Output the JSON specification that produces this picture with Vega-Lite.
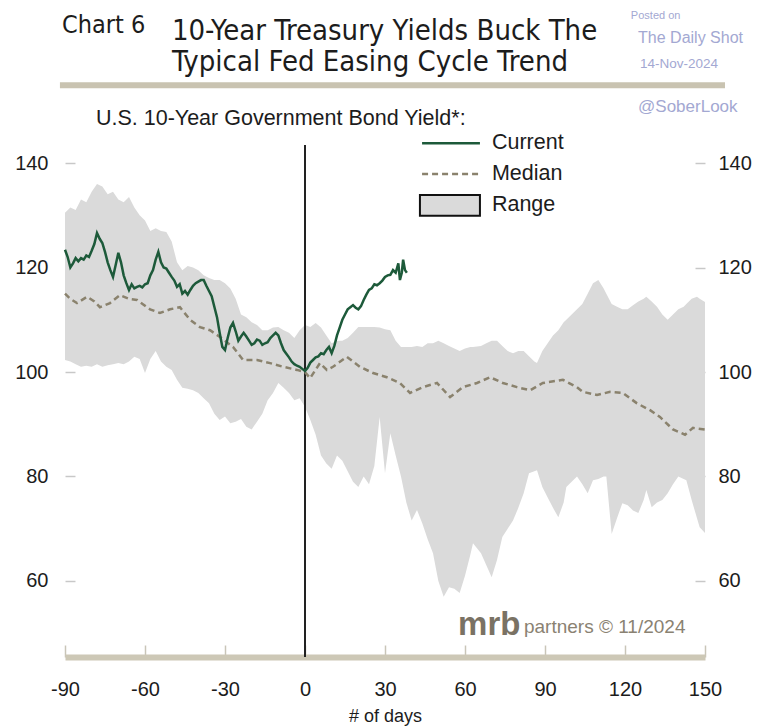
{
  "$schema": "https://vega.github.io/schema/vega-lite/v6.json",
  "autosize": {"type": "none"},
  "width": 640,
  "height": 512,
  "padding": {"left": 65, "top": 145, "right": 54, "bottom": 71},
  "background": "white",
  "config": {
    "view": {"stroke": null},
    "font": "Liberation Sans, Arial, sans-serif",
    "axisX": {
      "domain": true, "domainColor": "#cdc8b6", "domainWidth": 6, "domainCap": "butt",
      "grid": false, "ticks": true, "tickSize": -12, "tickColor": "#c9c5b8", "tickWidth": 1.5,
      "labelFont": "Liberation Sans, Arial, sans-serif", "labelFontSize": 20, "labelColor": "#1c1c1c",
      "labelPadding": 34, "labelFlush": false,
      "titleFont": "Liberation Sans, Arial, sans-serif", "titleFontSize": 18, "titleFontWeight": "normal",
      "titleColor": "#1c1c1c", "titlePadding": 8
    },
    "axisY": {
      "domain": false, "grid": false, "ticks": true, "tickSize": -10, "tickColor": "#c8c8c8", "tickWidth": 1.5,
      "labelFont": "Liberation Sans, Arial, sans-serif", "labelFontSize": 20, "labelColor": "#1c1c1c",
      "labelPadding": 27, "title": null
    }
  },
  "datasets": {
    "range": [
      {"day": -90, "hi": 130.5, "lo": 102.3}, {"day": -88, "hi": 131.5, "lo": 102}, {"day": -86, "hi": 131, "lo": 101.5},
      {"day": -84, "hi": 133, "lo": 101}, {"day": -82, "hi": 132.5, "lo": 101.2}, {"day": -80, "hi": 134.5, "lo": 101},
      {"day": -78, "hi": 136, "lo": 101.5}, {"day": -76, "hi": 135.5, "lo": 101}, {"day": -74, "hi": 134, "lo": 101.3},
      {"day": -72, "hi": 134.5, "lo": 101.5}, {"day": -70, "hi": 133, "lo": 101.7}, {"day": -68, "hi": 132.5, "lo": 101.5},
      {"day": -66, "hi": 133.5, "lo": 102}, {"day": -64, "hi": 131.5, "lo": 102.9}, {"day": -62, "hi": 130, "lo": 102.5},
      {"day": -60, "hi": 129, "lo": 99.8}, {"day": -58, "hi": 127, "lo": 102.5}, {"day": -56, "hi": 127.5, "lo": 104},
      {"day": -54, "hi": 127, "lo": 102}, {"day": -52, "hi": 126.8, "lo": 101}, {"day": -50, "hi": 125, "lo": 100.4},
      {"day": -48, "hi": 121, "lo": 98.5}, {"day": -46, "hi": 119.5, "lo": 97}, {"day": -44, "hi": 120.3, "lo": 96.8},
      {"day": -42, "hi": 120, "lo": 96.5}, {"day": -40, "hi": 119.5, "lo": 96}, {"day": -38, "hi": 118.5, "lo": 95},
      {"day": -36, "hi": 118, "lo": 94}, {"day": -34, "hi": 117.6, "lo": 92}, {"day": -32, "hi": 117.6, "lo": 90.8},
      {"day": -30, "hi": 117, "lo": 91.5}, {"day": -28, "hi": 116, "lo": 90.2}, {"day": -26, "hi": 114, "lo": 90.5},
      {"day": -24, "hi": 111, "lo": 91}, {"day": -22, "hi": 110.5, "lo": 89.5}, {"day": -20, "hi": 109.5, "lo": 89},
      {"day": -18, "hi": 109, "lo": 90.5}, {"day": -16, "hi": 108, "lo": 92}, {"day": -14, "hi": 108, "lo": 94.6},
      {"day": -12, "hi": 108.5, "lo": 96}, {"day": -10, "hi": 108.6, "lo": 97.9}, {"day": -8, "hi": 108, "lo": 97},
      {"day": -6, "hi": 107.5, "lo": 96}, {"day": -4, "hi": 106.5, "lo": 94.6}, {"day": -2, "hi": 108, "lo": 95},
      {"day": 0, "hi": 109, "lo": 93.3}, {"day": 2, "hi": 108.6, "lo": 90.8}, {"day": 4, "hi": 109.4, "lo": 88},
      {"day": 6, "hi": 108.5, "lo": 84}, {"day": 8, "hi": 107, "lo": 82.5}, {"day": 10, "hi": 105.5, "lo": 81.5},
      {"day": 12, "hi": 106, "lo": 84}, {"day": 14, "hi": 106, "lo": 83}, {"day": 16, "hi": 106.5, "lo": 81},
      {"day": 18, "hi": 107.5, "lo": 79}, {"day": 20, "hi": 108.6, "lo": 78}, {"day": 22, "hi": 108.6, "lo": 80},
      {"day": 24, "hi": 108.6, "lo": 78.5}, {"day": 26, "hi": 108.6, "lo": 82}, {"day": 28, "hi": 108.5, "lo": 91.4},
      {"day": 30, "hi": 108.2, "lo": 80.6}, {"day": 32, "hi": 108, "lo": 88.3}, {"day": 34, "hi": 106, "lo": 84},
      {"day": 36, "hi": 104.8, "lo": 80}, {"day": 38, "hi": 104.8, "lo": 75}, {"day": 40, "hi": 104.8, "lo": 71.6},
      {"day": 42, "hi": 105, "lo": 73.6}, {"day": 44, "hi": 104.8, "lo": 71}, {"day": 46, "hi": 105.5, "lo": 68},
      {"day": 48, "hi": 105.5, "lo": 65.3}, {"day": 50, "hi": 106, "lo": 60}, {"day": 52, "hi": 105.5, "lo": 57},
      {"day": 54, "hi": 105, "lo": 58.8}, {"day": 56, "hi": 104.5, "lo": 58.5}, {"day": 58, "hi": 104, "lo": 57.7},
      {"day": 60, "hi": 104.5, "lo": 61}, {"day": 62, "hi": 104.8, "lo": 65}, {"day": 63, "hi": 104.8, "lo": 67.2},
      {"day": 66, "hi": 105, "lo": 65.3}, {"day": 68, "hi": 105.5, "lo": 63}, {"day": 70, "hi": 106, "lo": 60.7},
      {"day": 72, "hi": 106, "lo": 64}, {"day": 74, "hi": 105, "lo": 68.4}, {"day": 76, "hi": 104, "lo": 70},
      {"day": 78, "hi": 103.6, "lo": 71.6}, {"day": 80, "hi": 104, "lo": 74}, {"day": 82, "hi": 104, "lo": 76.8},
      {"day": 84, "hi": 103, "lo": 80.6}, {"day": 86, "hi": 102, "lo": 81}, {"day": 87, "hi": 101.7, "lo": 81.2},
      {"day": 89, "hi": 104, "lo": 78}, {"day": 91, "hi": 105.5, "lo": 76}, {"day": 93, "hi": 107, "lo": 74},
      {"day": 95, "hi": 108, "lo": 72.2}, {"day": 97, "hi": 109.5, "lo": 75}, {"day": 98, "hi": 110, "lo": 78},
      {"day": 100, "hi": 111, "lo": 79}, {"day": 102, "hi": 112, "lo": 80}, {"day": 104, "hi": 113, "lo": 78.5},
      {"day": 106, "hi": 115, "lo": 76.8}, {"day": 108, "hi": 117, "lo": 79.3}, {"day": 110, "hi": 117.6, "lo": 79.5},
      {"day": 112, "hi": 116, "lo": 80}, {"day": 113, "hi": 115, "lo": 80}, {"day": 115, "hi": 113, "lo": 69},
      {"day": 117, "hi": 112.5, "lo": 72}, {"day": 119, "hi": 112, "lo": 74.9}, {"day": 121, "hi": 112, "lo": 74.5},
      {"day": 123, "hi": 112.8, "lo": 73.5}, {"day": 125, "hi": 113.5, "lo": 73}, {"day": 127, "hi": 114, "lo": 75.5},
      {"day": 128, "hi": 114.4, "lo": 77.4}, {"day": 130, "hi": 113.5, "lo": 74.1}, {"day": 132, "hi": 112.5, "lo": 75},
      {"day": 134, "hi": 111, "lo": 75.5}, {"day": 136, "hi": 110, "lo": 76.8}, {"day": 138, "hi": 111, "lo": 78.5},
      {"day": 140, "hi": 112, "lo": 80}, {"day": 142, "hi": 112.5, "lo": 79.5}, {"day": 143, "hi": 113, "lo": 79.3},
      {"day": 145, "hi": 114, "lo": 75.5}, {"day": 147, "hi": 114.4, "lo": 72}, {"day": 148, "hi": 114, "lo": 70.3},
      {"day": 150, "hi": 113.4, "lo": 69.2}
    ],
    "current": [
      {"day": -90, "value": 123.4}, {"day": -89, "value": 122}, {"day": -88, "value": 120}, {"day": -87, "value": 120.8},
      {"day": -86, "value": 121.8}, {"day": -85, "value": 121.2}, {"day": -84, "value": 121.8}, {"day": -83, "value": 121.5},
      {"day": -82, "value": 122.3}, {"day": -81, "value": 122}, {"day": -80, "value": 123.2}, {"day": -79, "value": 124.5},
      {"day": -78, "value": 126.6}, {"day": -77, "value": 125.5}, {"day": -76, "value": 124.7}, {"day": -75, "value": 123},
      {"day": -74, "value": 121}, {"day": -73, "value": 119.5}, {"day": -72, "value": 118.2}, {"day": -71, "value": 120.5},
      {"day": -70, "value": 122.8}, {"day": -69, "value": 121}, {"day": -68, "value": 118.5}, {"day": -67, "value": 117},
      {"day": -66, "value": 115.7}, {"day": -65, "value": 116.8}, {"day": -64, "value": 116}, {"day": -63, "value": 116.3},
      {"day": -62, "value": 116.5}, {"day": -61, "value": 116.2}, {"day": -60, "value": 116.8}, {"day": -59, "value": 117},
      {"day": -58, "value": 118.5}, {"day": -57, "value": 119.5}, {"day": -56, "value": 121.5}, {"day": -55, "value": 123},
      {"day": -54, "value": 121}, {"day": -53, "value": 120}, {"day": -52, "value": 119.8}, {"day": -51, "value": 119},
      {"day": -50, "value": 118.2}, {"day": -49, "value": 117.5}, {"day": -48, "value": 116.3}, {"day": -47, "value": 116.8},
      {"day": -46, "value": 115}, {"day": -45, "value": 115.5}, {"day": -44, "value": 114.8}, {"day": -43, "value": 115.7},
      {"day": -42, "value": 116.5}, {"day": -41, "value": 117}, {"day": -40, "value": 117.3}, {"day": -39, "value": 117.6},
      {"day": -38, "value": 117.6}, {"day": -37, "value": 116.5}, {"day": -36, "value": 115.5}, {"day": -35, "value": 114.5},
      {"day": -34, "value": 112.5}, {"day": -33, "value": 110.5}, {"day": -32, "value": 107.5}, {"day": -31, "value": 104.8},
      {"day": -30, "value": 104.2}, {"day": -29, "value": 106.5}, {"day": -28, "value": 108.5}, {"day": -27, "value": 109.4},
      {"day": -26, "value": 107.8}, {"day": -25, "value": 106}, {"day": -24, "value": 106.8}, {"day": -23, "value": 107.5},
      {"day": -22, "value": 106.8}, {"day": -21, "value": 106}, {"day": -20, "value": 105.2}, {"day": -19, "value": 105.5},
      {"day": -18, "value": 106.2}, {"day": -17, "value": 106}, {"day": -16, "value": 105.2}, {"day": -15, "value": 105.5},
      {"day": -14, "value": 105.7}, {"day": -13, "value": 106.5}, {"day": -12, "value": 107}, {"day": -11, "value": 107.5},
      {"day": -10, "value": 107}, {"day": -9, "value": 105.5}, {"day": -8, "value": 104.2}, {"day": -7, "value": 103.5},
      {"day": -6, "value": 102.8}, {"day": -5, "value": 102}, {"day": -4, "value": 101.5}, {"day": -3, "value": 101.2},
      {"day": -2, "value": 101}, {"day": -1, "value": 100.6}, {"day": 0, "value": 100.2}, {"day": 1, "value": 100.8},
      {"day": 2, "value": 101.8}, {"day": 3, "value": 102.3}, {"day": 4, "value": 102.8}, {"day": 5, "value": 103},
      {"day": 6, "value": 103.6}, {"day": 7, "value": 103.4}, {"day": 8, "value": 104.2}, {"day": 9, "value": 104.8},
      {"day": 10, "value": 103.6}, {"day": 11, "value": 105}, {"day": 12, "value": 107}, {"day": 13, "value": 108.5},
      {"day": 14, "value": 110}, {"day": 15, "value": 111}, {"day": 16, "value": 112}, {"day": 17, "value": 112.4},
      {"day": 18, "value": 112.8}, {"day": 19, "value": 112.3}, {"day": 20, "value": 112}, {"day": 21, "value": 112.6},
      {"day": 22, "value": 113.8}, {"day": 23, "value": 114.8}, {"day": 24, "value": 115.7}, {"day": 25, "value": 116},
      {"day": 26, "value": 116.8}, {"day": 27, "value": 116.6}, {"day": 28, "value": 117}, {"day": 29, "value": 117.5},
      {"day": 30, "value": 118.2}, {"day": 31, "value": 118.5}, {"day": 32, "value": 118.6}, {"day": 33, "value": 119.5},
      {"day": 34, "value": 119}, {"day": 35, "value": 120.8}, {"day": 35.6, "value": 117.6}, {"day": 36.3, "value": 119},
      {"day": 36.8, "value": 121.5}, {"day": 37.5, "value": 119.5}, {"day": 38.2, "value": 119}
    ],
    "median": [
      {"day": -90, "value": 115}, {"day": -88, "value": 114}, {"day": -85.5, "value": 113.2}, {"day": -81.7, "value": 114.4},
      {"day": -79, "value": 113.5}, {"day": -76.9, "value": 112.4}, {"day": -73.1, "value": 113.2}, {"day": -69.4, "value": 114.7},
      {"day": -66, "value": 114}, {"day": -63, "value": 113.8}, {"day": -58.1, "value": 112}, {"day": -54.4, "value": 111.3},
      {"day": -50.6, "value": 112}, {"day": -46.9, "value": 112.4}, {"day": -43.1, "value": 110}, {"day": -39.4, "value": 108.6},
      {"day": -35.6, "value": 108}, {"day": -31.9, "value": 106.7}, {"day": -27, "value": 104.8}, {"day": -23.2, "value": 102.3},
      {"day": -18, "value": 102.3}, {"day": -13.1, "value": 101.7}, {"day": -8.2, "value": 101}, {"day": -3, "value": 100.4},
      {"day": 0, "value": 100}, {"day": 1.9, "value": 98.8}, {"day": 5.6, "value": 101.7}, {"day": 8.2, "value": 100.4},
      {"day": 10.5, "value": 101}, {"day": 15.7, "value": 102.9}, {"day": 20.6, "value": 101}, {"day": 25.5, "value": 99.8},
      {"day": 30.7, "value": 99}, {"day": 35.6, "value": 97.9}, {"day": 39.4, "value": 96}, {"day": 44.2, "value": 97.1},
      {"day": 49.5, "value": 97.9}, {"day": 54.4, "value": 95.2}, {"day": 59.2, "value": 97.1}, {"day": 64.5, "value": 97.9},
      {"day": 69.4, "value": 99}, {"day": 74.2, "value": 97.9}, {"day": 79.5, "value": 97.1}, {"day": 84.4, "value": 96.5},
      {"day": 89.2, "value": 97.9}, {"day": 96.7, "value": 98.5}, {"day": 102, "value": 97.1}, {"day": 104.2, "value": 96.2},
      {"day": 109.5, "value": 95.6}, {"day": 114.4, "value": 96.2}, {"day": 119.2, "value": 96}, {"day": 124.5, "value": 94},
      {"day": 129.4, "value": 92.7}, {"day": 133.1, "value": 91.4}, {"day": 138, "value": 89}, {"day": 142.5, "value": 88},
      {"day": 145.5, "value": 89.3}, {"day": 150, "value": 89}
    ]
  },
  "resolve": {"axis": {"y": "independent"}},
  "layer": [
    {
      "data": {"name": "range"},
      "mark": {"type": "area", "color": "#dadada", "opacity": 1},
      "encoding": {
        "x": {"field": "day", "type": "quantitative", "title": "# of days",
              "scale": {"domain": [-90, 150], "nice": false, "zero": false},
              "axis": {"values": [-90, -60, -30, 0, 30, 60, 90, 120, 150], "labelExpr": "'' + datum.value"}},
        "y": {"field": "hi", "type": "quantitative",
              "scale": {"domain": [45.45, 143.45], "nice": false, "zero": false},
              "axis": {"orient": "left", "values": [60, 80, 100, 120, 140]}},
        "y2": {"field": "lo"}
      }
    },
    {
      "data": {"values": [{}]},
      "mark": {"type": "rule", "color": "#222222", "strokeWidth": 2},
      "encoding": {
        "x": {"datum": 0, "type": "quantitative", "scale": {"domain": [-90, 150], "nice": false, "zero": false}}
      }
    },
    {
      "data": {"name": "median"},
      "mark": {"type": "line", "color": "#8a826d", "strokeWidth": 2.5, "strokeDash": [6, 4]},
      "encoding": {
        "x": {"field": "day", "type": "quantitative", "scale": {"domain": [-90, 150], "nice": false, "zero": false}},
        "y": {"field": "value", "type": "quantitative",
              "scale": {"domain": [45.45, 143.45], "nice": false, "zero": false},
              "axis": {"orient": "right", "values": [60, 80, 100, 120, 140], "labelAlign": "left", "labelPadding": 23}}
      }
    },
    {
      "data": {"name": "current"},
      "mark": {"type": "line", "color": "#1d5a3a", "strokeWidth": 2.5},
      "encoding": {
        "x": {"field": "day", "type": "quantitative", "scale": {"domain": [-90, 150], "nice": false, "zero": false}},
        "y": {"field": "value", "type": "quantitative", "axis": null,
              "scale": {"domain": [45.45, 143.45], "nice": false, "zero": false}}
      }
    },
    {
      "data": {"values": [{}]},
      "mark": {"type": "rule", "color": "#c9c3b1", "strokeWidth": 6},
      "encoding": {
        "x": {"datum": -91.9, "type": "quantitative", "scale": {"domain": [-90, 150], "nice": false, "zero": false}},
        "x2": {"datum": 157.5},
        "y": {"datum": 154.9, "type": "quantitative", "axis": null, "scale": {"domain": [45.45, 143.45], "nice": false, "zero": false}}
      }
    },
    {
      "data": {"values": [{}]},
      "mark": {"type": "text", "align": "left", "baseline": "alphabetic", "fontSize": 25, "font": "Liberation Sans Narrow, DejaVu Sans Condensed, sans-serif", "color": "#1c1c1c"},
      "encoding": {
        "text": {"value": "Chart 6"},
        "x": {"datum": -91.1, "type": "quantitative", "scale": {"domain": [-90, 150], "nice": false, "zero": false}},
        "y": {"datum": 164.9, "type": "quantitative", "axis": null, "scale": {"domain": [45.45, 143.45], "nice": false, "zero": false}}
      }
    },
    {
      "data": {"values": [{}]},
      "mark": {"type": "text", "align": "left", "baseline": "alphabetic", "fontSize": 29, "lineHeight": 31, "font": "Liberation Sans Narrow, DejaVu Sans Condensed, sans-serif", "color": "#1c1c1c"},
      "encoding": {
        "text": {"value": ["10-Year Treasury Yields Buck The", "Typical Fed Easing Cycle Trend"]},
        "x": {"datum": -49.9, "type": "quantitative", "scale": {"domain": [-90, 150], "nice": false, "zero": false}},
        "y": {"datum": 163.55, "type": "quantitative", "axis": null, "scale": {"domain": [45.45, 143.45], "nice": false, "zero": false}}
      }
    },
    {
      "data": {"values": [{}]},
      "mark": {"type": "text", "align": "left", "baseline": "alphabetic", "fontSize": 11, "color": "#a3a8d2"},
      "encoding": {
        "text": {"value": "Posted on"},
        "x": {"datum": 122.2, "type": "quantitative", "scale": {"domain": [-90, 150], "nice": false, "zero": false}},
        "y": {"datum": 167.6, "type": "quantitative", "axis": null, "scale": {"domain": [45.45, 143.45], "nice": false, "zero": false}}
      }
    },
    {
      "data": {"values": [{}]},
      "mark": {"type": "text", "align": "left", "baseline": "alphabetic", "fontSize": 16, "color": "#a3a8d2"},
      "encoding": {
        "text": {"value": "The Daily Shot"},
        "x": {"datum": 124.9, "type": "quantitative", "scale": {"domain": [-90, 150], "nice": false, "zero": false}},
        "y": {"datum": 163, "type": "quantitative", "axis": null, "scale": {"domain": [45.45, 143.45], "nice": false, "zero": false}}
      }
    },
    {
      "data": {"values": [{}]},
      "mark": {"type": "text", "align": "left", "baseline": "alphabetic", "fontSize": 13.5, "color": "#a3a8d2"},
      "encoding": {
        "text": {"value": "14-Nov-2024"},
        "x": {"datum": 125.6, "type": "quantitative", "scale": {"domain": [-90, 150], "nice": false, "zero": false}},
        "y": {"datum": 158.2, "type": "quantitative", "axis": null, "scale": {"domain": [45.45, 143.45], "nice": false, "zero": false}}
      }
    },
    {
      "data": {"values": [{}]},
      "mark": {"type": "text", "align": "left", "baseline": "alphabetic", "fontSize": 17, "color": "#a3a8d2"},
      "encoding": {
        "text": {"value": "@SoberLook"},
        "x": {"datum": 124.9, "type": "quantitative", "scale": {"domain": [-90, 150], "nice": false, "zero": false}},
        "y": {"datum": 149.8, "type": "quantitative", "axis": null, "scale": {"domain": [45.45, 143.45], "nice": false, "zero": false}}
      }
    },
    {
      "data": {"values": [{}]},
      "mark": {"type": "text", "align": "left", "baseline": "alphabetic", "fontSize": 21.5, "color": "#1c1c1c"},
      "encoding": {
        "text": {"value": "U.S. 10-Year Government Bond Yield*:"},
        "x": {"datum": -78.4, "type": "quantitative", "scale": {"domain": [-90, 150], "nice": false, "zero": false}},
        "y": {"datum": 147.3, "type": "quantitative", "axis": null, "scale": {"domain": [45.45, 143.45], "nice": false, "zero": false}}
      }
    },
    {
      "data": {"values": [{}]},
      "mark": {"type": "rule", "color": "#1d5a3a", "strokeWidth": 2.5},
      "encoding": {
        "x": {"datum": 43.9, "type": "quantitative", "scale": {"domain": [-90, 150], "nice": false, "zero": false}},
        "x2": {"datum": 65.6},
        "y": {"datum": 143.8, "type": "quantitative", "axis": null, "scale": {"domain": [45.45, 143.45], "nice": false, "zero": false}}
      }
    },
    {
      "data": {"values": [{}]},
      "mark": {"type": "rule", "color": "#8a826d", "strokeWidth": 2.5, "strokeDash": [6, 4]},
      "encoding": {
        "x": {"datum": 43.9, "type": "quantitative", "scale": {"domain": [-90, 150], "nice": false, "zero": false}},
        "x2": {"datum": 65.6},
        "y": {"datum": 137.9, "type": "quantitative", "axis": null, "scale": {"domain": [45.45, 143.45], "nice": false, "zero": false}}
      }
    },
    {
      "data": {"values": [{}]},
      "mark": {"type": "rect", "fill": "#dadada", "stroke": "#111111", "strokeWidth": 2},
      "encoding": {
        "x": {"datum": 43.1, "type": "quantitative", "scale": {"domain": [-90, 150], "nice": false, "zero": false}},
        "x2": {"datum": 65.6},
        "y": {"datum": 133.9, "type": "quantitative", "axis": null, "scale": {"domain": [45.45, 143.45], "nice": false, "zero": false}},
        "y2": {"datum": 129.9}
      }
    },
    {
      "data": {"values": [{"label": "Current", "lv": 143.8}, {"label": "Median", "lv": 137.9}, {"label": "Range", "lv": 131.9}]},
      "mark": {"type": "text", "align": "left", "baseline": "middle", "fontSize": 21.5, "color": "#1c1c1c"},
      "encoding": {
        "text": {"field": "label"},
        "x": {"datum": 70.1, "type": "quantitative", "scale": {"domain": [-90, 150], "nice": false, "zero": false}},
        "y": {"field": "lv", "type": "quantitative", "axis": null, "scale": {"domain": [45.45, 143.45], "nice": false, "zero": false}}
      }
    },
    {
      "data": {"values": [{}]},
      "mark": {"type": "text", "align": "left", "baseline": "alphabetic", "fontSize": 33, "fontWeight": "bold", "color": "#7a7264"},
      "encoding": {
        "text": {"value": "mrb"},
        "x": {"datum": 57.4, "type": "quantitative", "scale": {"domain": [-90, 150], "nice": false, "zero": false}},
        "y": {"datum": 49.7, "type": "quantitative", "axis": null, "scale": {"domain": [45.45, 143.45], "nice": false, "zero": false}}
      }
    },
    {
      "data": {"values": [{}]},
      "mark": {"type": "text", "align": "left", "baseline": "alphabetic", "fontSize": 19, "color": "#8a8272"},
      "encoding": {
        "text": {"value": "partners © 11/2024"},
        "x": {"datum": 82.1, "type": "quantitative", "scale": {"domain": [-90, 150], "nice": false, "zero": false}},
        "y": {"datum": 50.06, "type": "quantitative", "axis": null, "scale": {"domain": [45.45, 143.45], "nice": false, "zero": false}}
      }
    }
  ]
}
